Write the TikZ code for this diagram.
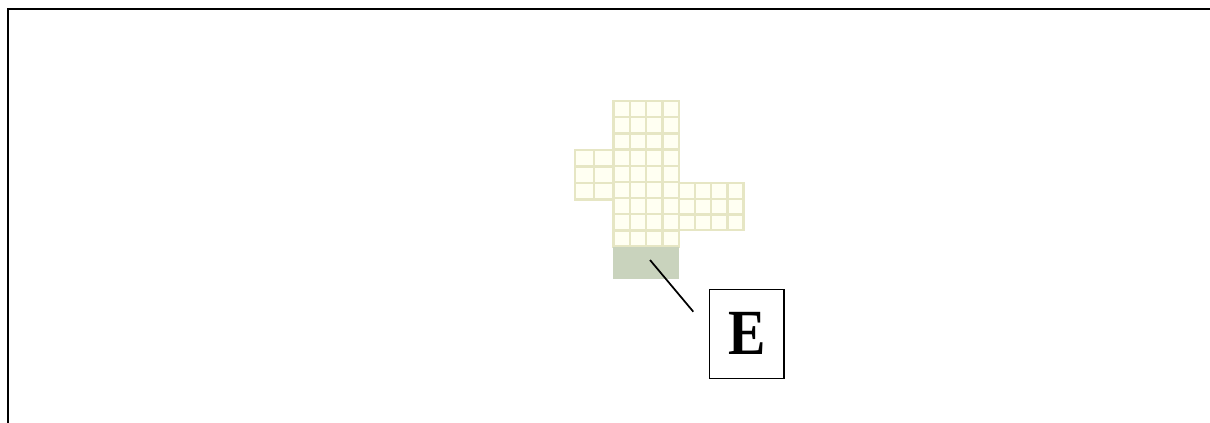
\documentclass[tikz,border=0pt]{standalone}
\usepackage{fontspec}
\setmainfont{Liberation Serif}
\definecolor{gridline}{HTML}{E6E6C4}
\definecolor{cellfill}{HTML}{FFFFF2}
\definecolor{shade}{HTML}{C9D3BD}
\tikzset{
  cell/.style={fill=cellfill, draw=gridline, line width=1.8pt},
  shadebox/.style={fill=shade, draw=none},
  frameline/.style={line width=1.5pt, black},
  leader/.style={line width=1.3pt, black},
  labelbox/.style={draw=black, line width=1pt, minimum width=74.7*0.75pt, minimum height=89*0.75pt, inner sep=0pt, font=\fontsize{42}{42}\selectfont\bfseries}
}
\begin{document}
\begin{tikzpicture}[x=0.75pt, y=-0.75pt]
\useasboundingbox (0,0) rectangle (1210,423);
% frame
\draw[frameline] (7.5,423) -- (7.5,9.5) -- (1210,9.5);
% main column: 4 cols x 9 rows
\foreach \i in {0,...,3} {
  \foreach \j in {0,...,8} {
    \draw[cell] ({613.3+16.4*\i},{101+16.18*\j}) rectangle ++(16.4,16.18);
  }
}
% left arm: 2 cols x 3 rows
\foreach \i in {0,1} {
  \foreach \j in {0,1,2} {
    \draw[cell] ({575+19.15*\i},{150+16.45*\j}) rectangle ++(19.15,16.45);
  }
}
% right arm: 4 cols x 3 rows
\foreach \i in {0,...,3} {
  \foreach \j in {0,1,2} {
    \draw[cell] ({679+16.1*\i},{183.3+15.57*\j}) rectangle ++(16.1,15.57);
  }
}
% shaded region
\fill[shadebox] (613.3,246.7) rectangle (679,279.3);
% label
\node[labelbox] (E) at (746.7,333.8) {\scalebox{1}[1.15]{E}};
\coordinate (p1) at (650,260);
\coordinate (p2) at (693.3,311.7);
\draw[leader] (p1) -- (p2);
\end{tikzpicture}
\end{document}
